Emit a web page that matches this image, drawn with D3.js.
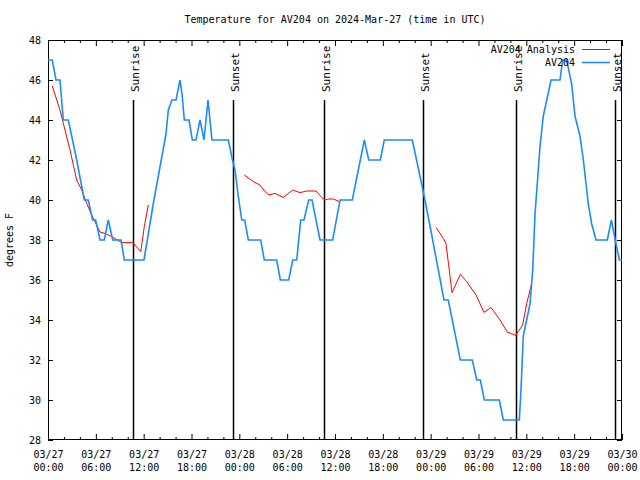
<!DOCTYPE html>
<html>
<head>
<meta charset="utf-8">
<script src="https://cdn.jsdelivr.net/npm/d3@7"></script>
<style>
  html, body { margin: 0; padding: 0; background: #fff; }
  svg text { font-family: "DejaVu Sans Mono", "Liberation Mono", monospace; font-size: 10px; fill: #000; }
</style>
</head>
<body>
<svg id="chart" width="640" height="480"></svg>
<script>
// ---- data (hours since 2024-03-27 00:00 UTC) ----
const titleText = "Temperature for AV204 on 2024-Mar-27 (time in UTC)";
const yLabelText = "degrees F";
const seriesNames = ["AV204 Analysis", "AV204"];

const obsHours = [0, 0.54, 1.0, 1.5, 1.92, 2.55, 3.6, 4.55, 5.05, 5.6, 5.98, 6.52, 7.06, 7.56, 8.12, 9.16, 9.57,
  12.04, 13.2, 14.8, 15.09, 15.55, 16.06, 16.56, 16.81, 17.1, 17.69, 18.1, 18.56, 19.07, 19.57, 20.07, 20.57, 22.62,
  23.08, 23.46, 23.83, 24.3, 24.67, 25.13, 26.68, 27.13, 28.69, 29.14, 30.19, 30.7, 31.2, 31.7, 32.11, 32.7, 33.12,
  34.12, 35.71, 36.63, 38.17, 39.68, 40.23, 41.68, 42.18, 45.7, 47.08, 47.92, 49.67, 50.21, 51.72, 53.22, 53.78,
  54.23, 54.73, 56.61, 57.11, 59.12, 59.33, 59.62, 60.46, 60.8, 61.09, 61.72, 62.13, 62.56, 63.1, 64.22, 64.56,
  65.06, 65.69, 66.1, 66.73, 67.15, 67.77, 68.2, 68.74, 70.16, 70.66, 71.25, 71.67, 72];
const obsTemps = [47, 47, 46, 46, 44, 44, 42, 40, 40, 39, 39, 38, 38, 39, 38, 38, 37,
  37, 39.8, 43.3, 44.5, 45, 45, 46, 45.3, 44, 44, 43, 43, 44, 43, 45, 43, 43,
  42.1, 41.5, 40.3, 39, 39, 38, 38, 37, 37, 36, 36, 37, 37, 39, 39, 40, 40,
  38, 38, 40, 40, 43, 42, 42, 43, 43, 40.4, 38.7, 35, 35, 32, 32, 31,
  31, 30, 30, 29, 29, 30.5, 33.2, 34.8, 36.5, 39.3, 42.7, 44.2, 45, 46, 46, 47,
  47, 45.8, 44.2, 43.2, 42, 39.8, 38.8, 38, 38, 39, 37.8, 37, 37];

// analysis series, null marks a gap
const anaHours = [0.54, 1.5, 2.76, 3.6, 4.23, 4.85, 5.48, 6.52, 7.15, 7.99, 9.24, 10.62, 11.63, 12.08, 12.58, 18.0,
  24.62, 25.75, 26.59, 27.22, 27.72, 28.47, 29.52, 30.7, 31.61, 32.45, 33.62, 34.33, 34.75, 35.16, 35.79, 36.54, 42.0,
  48.67, 49.59, 49.92, 50.68, 51.72, 52.52, 53.69, 54.69, 55.57, 56.7, 57.61, 58.67, 59.54, 60.05, 60.68];
const anaTemps = [45.7, 44.5, 42.5, 41.0, 40.5, 39.83, 39.25, 38.4, 38.33, 38.17, 37.87, 37.87, 37.42, 38.67, 39.75, null,
  41.25, 40.92, 40.75, 40.42, 40.25, 40.33, 40.13, 40.5, 40.37, 40.45, 40.45, 40.13, 40.0, 40.05, 40.05, 39.92, null,
  38.63, 38.08, 37.83, 35.37, 36.28, 35.92, 35.25, 34.38, 34.63, 34.0, 33.4, 33.23, 33.75, 34.83, 35.83];

const sunHours = [10.7, 23.17, 34.66, 47.06, 58.72, 71.15];
const sunLabels = ["Sunrise", "Sunset", "Sunrise", "Sunset", "Sunrise", "Sunset"];

const yTicks = [28, 30, 32, 34, 36, 38, 40, 42, 44, 46, 48];
const xMajorHours = [0, 6, 12, 18, 24, 30, 36, 42, 48, 54, 60, 66, 72];
const xMinorHours = [2, 4, 8, 10, 14, 16, 20, 22, 26, 28, 32, 34, 38, 40, 44, 46, 50, 52, 56, 58, 62, 64, 68, 70];

// ---- setup ----
const t0 = Date.UTC(2024, 2, 27, 0, 0);
const toDate = h => new Date(t0 + h * 3600e3);

const svg = d3.select("#chart");
const L = 48, R = 622, T = 40, B = 440;

const x = d3.scaleUtc().domain([toDate(0), toDate(72)]).range([L, R]);
const y = d3.scaleLinear().domain([28, 48]).range([B, T]);

const fmtDay = d3.utcFormat("%m/%d");
const fmtTime = d3.utcFormat("%H:%M");

// title
svg.append("text").attr("x", 335).attr("y", 23).attr("text-anchor", "middle").text(titleText);

// y label
svg.append("text").attr("transform", "translate(13,240) rotate(-90)").attr("text-anchor", "middle").text(yLabelText);

// axes
const gLeft = svg.append("g").attr("transform", `translate(${L},0)`)
  .call(d3.axisLeft(y).tickValues(yTicks).tickSizeInner(-5).tickSizeOuter(0).tickPadding(7).tickFormat(d3.format("d")));
gLeft.selectAll("text").style("font-size", "10px").style("font-family", "DejaVu Sans Mono, monospace");

const gRight = svg.append("g").attr("transform", `translate(${R},0)`)
  .call(d3.axisLeft(y).tickValues(yTicks).tickSize(5).tickFormat(""));

const gBottom = svg.append("g").attr("transform", `translate(0,${B})`)
  .call(d3.axisBottom(x).tickValues(xMajorHours.map(toDate)).tickSizeInner(-6).tickSizeOuter(0).tickPadding(10));
gBottom.selectAll(".tick text").each(function (d) {
  const t = d3.select(this);
  t.text(null).attr("y", 0).attr("dy", null);
  t.append("tspan").attr("x", 0).attr("y", 18).text(fmtDay(d));
  t.append("tspan").attr("x", 0).attr("y", 31).text(fmtTime(d));
});
gBottom.selectAll("text").style("font-size", "10px").style("font-family", "DejaVu Sans Mono, monospace");

svg.append("g").attr("transform", `translate(0,${B})`)
  .call(d3.axisBottom(x).tickValues(xMinorHours.map(toDate)).tickSizeInner(-3).tickSizeOuter(0).tickFormat(""));

svg.append("g").attr("transform", `translate(0,${T})`)
  .call(d3.axisBottom(x).tickValues(xMajorHours.map(toDate)).tickSizeInner(6).tickSizeOuter(0).tickFormat(""));
svg.append("g").attr("transform", `translate(0,${T})`)
  .call(d3.axisBottom(x).tickValues(xMinorHours.map(toDate)).tickSizeInner(3).tickSizeOuter(0).tickFormat(""));

svg.selectAll(".domain").remove();
svg.selectAll(".tick line").attr("stroke", "#000").attr("stroke-width", 1);

// border
svg.append("rect").attr("x", L + 0.5).attr("y", T + 0.5).attr("width", R - L - 1).attr("height", B - T - 1)
  .attr("fill", "none").attr("stroke", "#000").attr("stroke-width", 1);

// sunrise / sunset lines
const sun = svg.append("g");
sunHours.forEach((h, i) => {
  const xp = Math.round(x(toDate(h))) + 0.5;
  sun.append("line").attr("x1", xp).attr("x2", xp).attr("y1", y(45)).attr("y2", y(28))
    .attr("stroke", "#000").attr("stroke-width", 1.5);
  sun.append("text").attr("transform", `translate(${xp + 5},${y(45) - 8}) rotate(-90)`)
    .attr("text-anchor", "start").style("font-size", "11px").text(sunLabels[i]);
});

// lines
const obs = obsHours.map((h, i) => ({ t: toDate(h), v: obsTemps[i] }));
const ana = anaHours.map((h, i) => ({ t: toDate(h), v: anaTemps[i] }));

const line = d3.line().defined(d => d.v !== null).x(d => x(d.t)).y(d => y(d.v));

svg.append("path").datum(ana).attr("d", line).attr("fill", "none").attr("stroke", "#ff0000").attr("stroke-width", 1);
svg.append("path").datum(obs).attr("d", line).attr("fill", "none").attr("stroke", "#1a8cff").attr("stroke-width", 1.6);

// legend
const legendColors = ["#ff0000", "#1a8cff"];
const legendWidths = [1, 1.6];
seriesNames.forEach((name, i) => {
  const ly = 49 + i * 13;
  svg.append("text").attr("x", 575).attr("y", ly + 4).attr("text-anchor", "end").text(name);
  svg.append("line").attr("x1", 582).attr("x2", 610).attr("y1", ly + 0.5).attr("y2", ly + 0.5)
    .attr("stroke", legendColors[i]).attr("stroke-width", legendWidths[i]);
});
</script>
</body>
</html>
